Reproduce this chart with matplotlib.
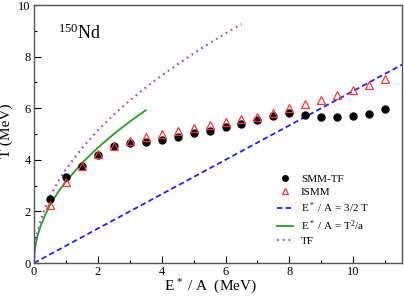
import matplotlib
matplotlib.use("Agg")
import matplotlib.pyplot as plt

# SMM-TF and ISMM points
E_pts = [0.5, 1.0, 1.5, 2.0, 2.5, 3.0, 3.5, 4.0, 4.5, 5.0, 5.5,
         6.0, 6.5, 7.0, 7.5, 8.0, 8.5, 9.0, 9.5, 10.0, 10.5, 11.0]
T_smm = [2.47, 3.32, 3.76, 4.20, 4.53, 4.66, 4.69, 4.76, 4.90, 5.03, 5.13,
         5.26, 5.39, 5.54, 5.70, 5.83, 5.74, 5.66, 5.66, 5.69, 5.78, 5.96]
T_ismm = [2.25, 3.14, 3.76, 4.22, 4.55, 4.74, 4.90, 5.00, 5.10, 5.23, 5.34,
          5.47, 5.57, 5.67, 5.80, 6.00, 6.16, 6.33, 6.50, 6.70, 6.91, 7.12]

# E*/A = 3/2 T line
E_lin = [0.0, 12.0]
T_lin = [0.0, 8.0]

# E*/A = T^2/a curve
E_fg = [0, 0.01, 0.03, 0.06, 0.1, 0.2, 0.35, 0.5, 0.75, 1.0, 1.5, 2.0, 2.5, 3.0, 3.5]
T_fg = [0, 0.32, 0.55, 0.77, 1.0, 1.41, 1.87, 2.24, 2.74, 3.16, 3.87, 4.47, 5.0, 5.48, 5.92]

# TF curve
E_tf = [0, 0.02, 0.05, 0.1, 0.2, 0.35, 0.5, 0.75, 1.0, 1.5, 2.0, 2.5, 3.0, 3.5,
        4.0, 4.5, 5.0, 5.5, 6.0, 6.5]
T_tf = [0, 0.5, 0.8, 1.15, 1.62, 2.15, 2.57, 3.15, 3.63, 4.45, 5.14, 5.75, 6.3, 6.8,
        7.27, 7.7, 8.12, 8.52, 8.9, 9.26]

plt.rcParams['font.family'] = ['Liberation Serif', 'DejaVu Serif']
plt.rcParams['mathtext.fontset'] = 'custom'
plt.rcParams['mathtext.rm'] = 'Liberation Serif'
plt.rcParams['mathtext.it'] = 'Liberation Serif:italic'

W, H = 404, 300
fig = plt.figure(figsize=(W / 100, H / 100), dpi=100)
ax = fig.add_axes([34 / W, 37 / H, (402 - 34) / W, (263 - 5) / H])

ax.plot(E_pts, T_smm, 'o', color='black', markersize=5.0, label='SMM-TF', zorder=4)
ax.plot(E_pts, T_ismm, '^', markerfacecolor='none', markeredgecolor='#ff3333',
        markersize=5.5, markeredgewidth=0.9, label='ISMM', zorder=5)
ax.plot(E_lin, T_lin, '--', color='#1f1fff', lw=1.3, dashes=(3, 1.8),
        label='E$^{\\,*}$ / A = 3/2 T')
ax.plot(E_fg, T_fg, '-', color='#22a022', lw=1.3, label='E$^{\\,*}$ / A = T$^{2}$/a')
ax.plot(E_tf, T_tf, ':', color='#9b4de0', lw=1.6, dashes=(0.8, 1.8), label='TF')

ax.set_xlim(0, 11.53)
ax.set_ylim(0, 10)
ax.set_xticks([0, 2, 4, 6, 8, 10])
ax.set_xticks([1, 3, 5, 7, 9, 11], minor=True)
ax.set_yticks([0, 2, 4, 6, 8, 10])
ax.set_yticks([1, 3, 5, 7, 9], minor=True)
ax.tick_params(which='both', direction='in', top=False, right=False, labelsize=9, pad=2.5)
ax.tick_params(which='major', length=5, width=0.8)
ax.tick_params(which='minor', length=2.5, width=0.8)
for s in ax.spines.values():
    s.set_color('#555555')
    s.set_linewidth(1.0)

ax.set_xlabel('E$^{\\,*}$ / A  (MeV)', fontsize=11)
ax.set_ylabel('T (MeV)', fontsize=11)
ax.xaxis.set_label_coords((210 - 34) / 368, (263 - 278) / 258)
ax.yaxis.set_label_coords((13 - 34) / 368, (263 - 131) / 258)

ax.text(0.065, 0.868, '$^{150}$Nd', transform=ax.transAxes, fontsize=13)

leg = ax.legend(loc='upper left', bbox_to_anchor=((277 - 34) / 368, (263 - 174) / 258),
                frameon=False, fontsize=8, handlelength=1.45, handletextpad=0.7,
                labelspacing=0.3, borderaxespad=0, borderpad=0, markerscale=0.8)

fig.savefig('out.png', dpi=100)
